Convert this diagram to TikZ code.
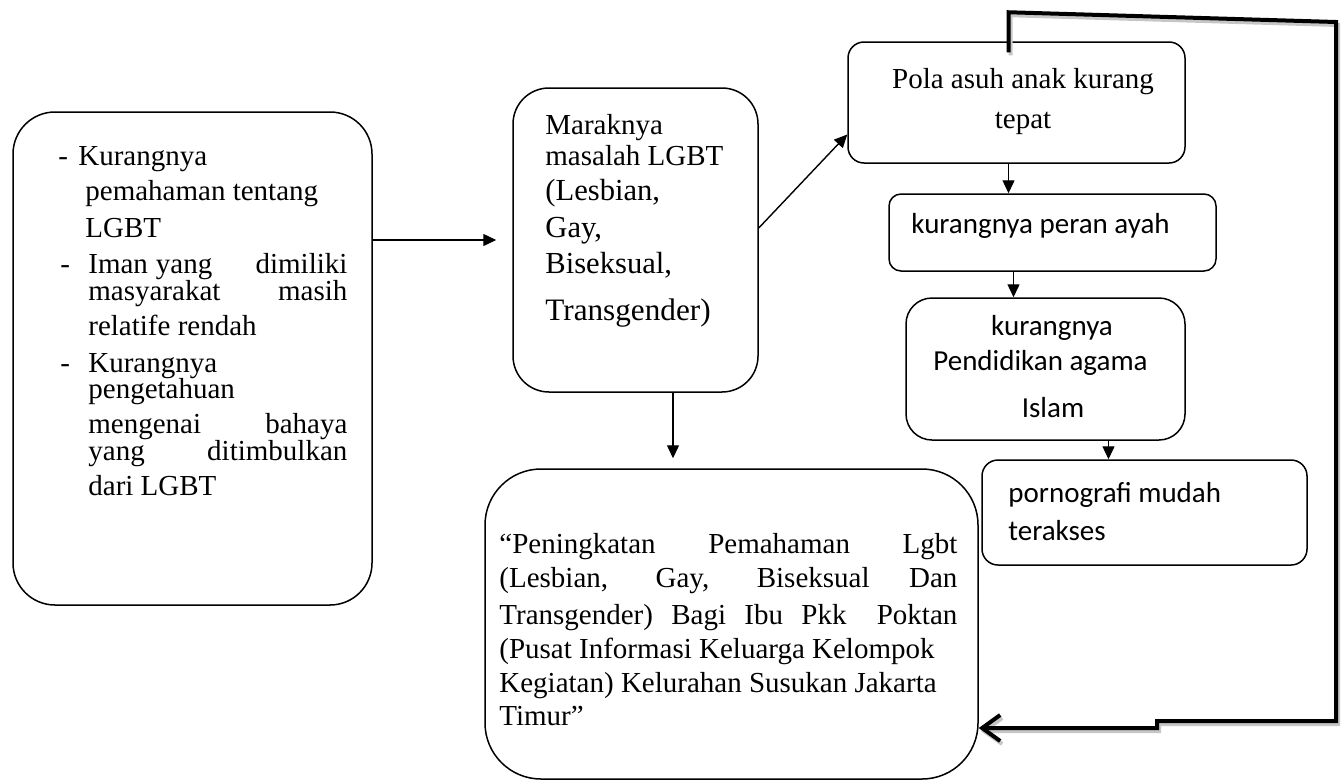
\documentclass[tikz,border=0pt]{standalone}
\usepackage{fontspec}
\setmainfont{Liberation Serif}
\newfontfamily\calibri{Carlito}
\usetikzlibrary{arrows.meta,calc}

\tikzset{
  kotak/.style={draw, line width=0.75pt, inner sep=0pt},
  teks/.style={anchor=base west, inner sep=0pt, font=\fontsize{14.5}{17}\selectfont},
  teksm/.style={teks, font=\fontsize{15.3}{18}\selectfont},
  kal/.style={teks, font=\calibri\fontsize{14.5}{17}\selectfont},
  panah/.style={-{Triangle[length=6.5pt,width=6pt]}, line width=0.7pt},
  balik/.style={line width=2pt, line join=miter, -{Straight Barb[length=9pt,width=13pt]}}
}

\begin{document}
\begin{tikzpicture}[x=0.5pt,y=-0.5pt]
\useasboundingbox (0,0) rectangle (1342,782);

% kotak-kotak
\node[kotak, rounded corners=21pt, minimum width=179.5pt, minimum height=246.5pt] (sebab) at (192.5,358.5) {};
\node[kotak, rounded corners=18pt, minimum width=122.5pt, minimum height=152pt] (marak) at (635.5,240) {};
\node[kotak, rounded corners=8pt, minimum width=168.5pt, minimum height=60.5pt] (pola) at (1016.5,102.5) {};
\node[kotak, rounded corners=6pt, minimum width=163.5pt, minimum height=38.5pt] (ayah) at (1052.5,232.5) {};
\node[kotak, rounded corners=13pt, minimum width=139.5pt, minimum height=71pt] (agama) at (1045.5,369) {};
\node[kotak, rounded corners=8pt, minimum width=162.5pt, minimum height=52.5pt] (porno) at (1144.5,512.5) {};
\node[kotak, rounded corners=28pt, minimum width=246.5pt, minimum height=155pt] (judul) at (731.5,624) {};

% teks sebab
\node[teks] (s1) at (58,165) {\makebox[10pt][l]{-}Kurangnya};
\node[teks] (s2) at (85,200) {pemahaman tentang};
\node[teks] (s3) at (85,237) {LGBT};
\node[teks] (s4) at (60,273) {\makebox[14pt][l]{-}\makebox[129.5pt][s]{Iman\hspace{4pt}yang\hfill dimiliki}};
\node[teks] (s5) at (88,300) {\makebox[129.5pt][s]{masyarakat masih}};
\node[teks] (s6) at (88,335) {relatife rendah};
\node[teks] (s7) at (60,372) {\makebox[14pt][l]{-}Kurangnya};
\node[teks] (s8) at (88,398) {pengetahuan};
\node[teks] (s9) at (88,433) {\makebox[129.5pt][s]{mengenai bahaya}};
\node[teks] (s10) at (88,460) {\makebox[129.5pt][s]{yang ditimbulkan}};
\node[teks] (s11) at (88,495) {dari LGBT};

% teks marak
\node[teks] (m1) at (545,134) {Maraknya};
\node[teks] (m2) at (545,165) {masalah LGBT};
\node[teksm] (m3) at (545,200) {(Lesbian,};
\node[teksm] (m4) at (545,237) {Gay,};
\node[teksm] (m5) at (545,273) {Biseksual,};
\node[teksm, font=\fontsize{15.6}{18}\selectfont] (m6) at (545,320) {Transgender)};

% teks sisi kanan
\node[teks, anchor=base] (p1) at (1023,88) {Pola asuh anak kurang};
\node[teks, anchor=base] (p2) at (1023,128) {tepat};
\node[kal] (a1) at (911,233) {kurangnya peran ayah};
\node[kal, anchor=base] (g1) at (1052,335) {kurangnya};
\node[kal] (g2) at (933,370) {Pendidikan agama};
\node[kal, anchor=base] (g3) at (1053,417) {Islam};
\node[kal] (r1) at (1008,502) {pornografi mudah};
\node[kal] (r2) at (1008,540) {terakses};

% teks judul
\node[teks] (j1) at (499,553) {\makebox[229pt][s]{“Peningkatan Pemahaman Lgbt}};
\node[teks] (j2) at (499,587) {\makebox[229pt][s]{(Lesbian, Gay, Biseksual Dan}};
\node[teks] (j3) at (499,624) {\makebox[229pt][s]{Transgender) Bagi Ibu Pkk\hspace{6pt} Poktan}};
\node[teks] (j4) at (499,658) {(Pusat Informasi Keluarga Kelompok};
\node[teks] (j5) at (499,692) {Kegiatan) Kelurahan Susukan Jakarta};
\node[teks] (j6) at (499,725) {Timur”};

% panah
\draw[panah, shorten >=8pt] (sebab.east |- marak.west) -- (marak.west);
\draw[panah] ([yshift=6pt]marak.east) -- ([yshift=-16pt]pola.west);
\draw[panah] ([xshift=-4pt]pola.south) -- ([xshift=-4pt]pola.south |- ayah.north);
\draw[panah] ([xshift=-16pt]agama.north |- ayah.south) -- ([xshift=-16pt]agama.north);
\draw[panah] ([xshift=-18pt]porno.north |- agama.south) -- ([xshift=-18pt]porno.north);
\draw[panah, shorten >=5pt] ([xshift=18.75pt]marak.south) -- ([xshift=18.75pt]marak.south |- judul.north);

% garis balik tebal
\coordinate (kanan) at (1336,22);
\coordinate (tangga) at (1157,721);
\draw[balik, gray!45, transform canvas={xshift=1pt,yshift=-1.5pt}] ([xshift=-4pt,yshift=-5.5pt]pola.north) -- ++(0,-40) -- (kanan) -- (kanan |- tangga) -- (tangga) -- ++(0,7) -- ([yshift=-52pt]judul.east);
\draw[balik] ([xshift=-4pt,yshift=-5.5pt]pola.north) -- ++(0,-40) -- (kanan) -- (kanan |- tangga) -- (tangga) -- ++(0,7) -- ([yshift=-52pt]judul.east);
\end{tikzpicture}
\end{document}
